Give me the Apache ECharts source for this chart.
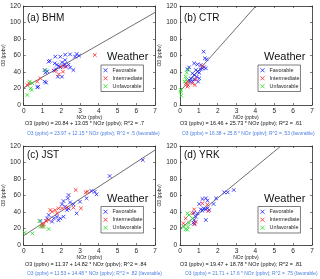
<!DOCTYPE html>
<html>
<head>
<meta charset="utf-8">
<script src="https://cdn.jsdelivr.net/npm/echarts@6/dist/echarts.min.js"></script>
<style>
html,body{margin:0;padding:0;background:#fff;}
#c{width:320px;height:279px;}
</style>
</head>
<body>
<div id="c"></div>
<script>
// ---- data ----
const panelLabels = ['(a) BHM', '(b) CTR', '(c) JST', '(d) YRK'];
const categories = ['Favorable', 'Intermediate', 'Unfavorable'];
const xTicks = [0, 1, 2, 3, 4, 5, 6, 7];
const yTicks = [0, 20, 40, 60, 80, 100, 120];

const bhmFav = [[1.33,52.5],[1.39,53.7],[1.68,58.6],[1.95,58.6],[2.21,61],[2.47,61.4],[2.82,61.8],[2.95,59.8],[2.74,58.6],[1.65,50.5],[1.77,48.9],[2.04,51.7],[2.18,49.7],[2.26,46.5],[2.39,48.9],[2.65,42.4],[2.47,45.3],[1.12,42.4],[1.25,40.8],[1.16,39.2],[1.6,41.6],[1.72,43.2],[1.86,47.3],[1.95,45.7],[2.12,47.3],[2.04,34.3],[1.82,34.3],[1.12,28.3],[1.19,27.1],[0.72,21.4],[0.77,22.2],[2.21,54.5]];
const bhmInt = [[3.79,60.6],[1.68,41.6],[2.0,46.5],[2.09,40.4],[1.86,37.2],[2.21,46.5],[0.89,32.3],[0.72,28.3],[0.28,26.3],[0.19,24.2]];
const bhmUnf = [[0.32,28.3],[0.46,26.3],[0.37,20.2],[0.42,18.2],[0.19,12.1],[1.14,42]];

const ctrFav = [[1.25,64.6],[1.32,56.6],[1.41,55.4],[1.1,48.5],[0.75,50.5],[0.93,49.3],[0.48,45.7],[0.39,43.2],[0.84,42.4],[0.93,40.4],[1.02,39.2],[0.66,38.4],[0.75,36.4],[1.1,43.2],[1.19,44.4],[1.28,45.7],[0.89,34.3],[1.02,32.3],[0.57,32.3],[0.48,30.3],[0.66,28.3],[0.53,28.3],[0.96,28.3],[0.75,31.1],[1.37,44.4]];
const ctrInt = [[1.19,47.3],[0.39,28.3],[0.3,26.3],[0.39,22.2],[0.43,24.2],[0.66,26.3],[0.78,24.2],[0.84,31.1]];
const ctrUnf = [[0.44,43],[0.36,39.2],[0.3,34.3],[0.34,31.1],[0.25,28.3],[0.04,18.2],[0.04,16.2],[0.07,11.3]];

const jstFav = [[4.58,83.6],[6.35,103],[3.79,64.6],[3.88,61.4],[3.61,65.5],[3.35,56.6],[3.0,52.5],[2.39,60.6],[2.35,56.6],[2.12,53.3],[2.04,49.3],[2.47,51.7],[2.65,49.3],[2.21,46.5],[2.82,38.4],[2.3,42.4],[2.12,34.3],[1.95,32.3],[1.77,34.3],[1.6,32.3],[1.51,28.3],[1.33,36.4],[1.25,32.3],[0.89,29.1],[2.4,44],[1.85,30]];
const jstInt = [[2.77,66.7],[3.3,63.8],[3.4,64.6],[3.05,44.4],[2.04,44.4],[1.86,44.4],[1.68,42.4],[1.51,40.4],[1.42,42.4],[1.77,38.4],[1.19,29.1],[1.33,30.3],[0.98,25],[0.98,22.2],[1.07,25],[2.65,45.3],[2.3,45.3]];
const jstUnf = [[0.84,29.1],[0.89,22.2],[1.33,19.4],[0.46,14.1],[0.05,15],[1.07,22.2]];

const yrkFav = [[2.85,66.7],[2.53,63.8],[2.35,63.8],[1.91,56.6],[1.37,56.6],[1.19,55.8],[1.46,53.7],[1.02,49.7],[1.78,49.7],[1.25,44.4],[1.37,43.2],[1.46,44.4],[1.55,42.4],[1.19,41.6],[1.1,43.2],[0.93,38.4],[0.84,34.3],[0.75,30.3],[0.71,27.1],[0.78,26],[1.37,30.3],[0.75,39]];
const yrkInt = [[1.19,50.5],[0.75,43.2],[0.66,38.4],[0.84,28.3],[0.75,25],[0.3,32.3],[0.18,26.3],[1.5,41],[1.45,49]];
const yrkUnf = [[0.39,38.4],[0.48,36.4],[0.21,22.2],[0.3,19],[0.43,22.2],[0.48,26.3],[0.66,32.3],[0.39,18.5]];

const fitIntercept = [20.84, 16.46, 11.37, 19.47];
const fitSlope = [13.05, 25.73, 14.82, 18.78];
const fitR2 = ['.7', '.61', '.84', '.81'];
const favIntercept = [23.97, 16.38, 11.53, 21.71];
const favSlope = [12.15, 25.8, 14.48, 17.6];
const favR2 = ['.5', '.53', '.82', '.75'];

// ---- layout ----
const panelData = [[bhmFav, bhmInt, bhmUnf], [ctrFav, ctrInt, ctrUnf], [jstFav, jstInt, jstUnf], [yrkFav, yrkInt, yrkUnf]];
const colors = ['#1a1aff', '#ff2222', '#1ee01e'];
const grids = [
  {left: 23, top: 6, width: 132, height: 99},
  {left: 180, top: 6, width: 132, height: 99},
  {left: 23, top: 146, width: 132, height: 99},
  {left: 180, top: 146, width: 132, height: 99}
];
const labelDy = [13.5, 13.5, 10.5, 10.5];
const weatherY = [58, 58, 200.5, 200.5];
const boxTop = [65, 65, 206.5, 206.5];
const eqY = [124.5, 124.5, 265, 265];
const eqX = [25, 180, 25, 180];
const favEqX = [27, 182, 27, 185];
const xPath = 'path://M0,0L10,10M10,0L0,10';
const font = 'Liberation Sans, Arial, sans-serif';
const axisCol = '#262626';

const xAxis = [], yAxis = [], series = [], legend = [], graphic = [];
grids.forEach((g, i) => {
  xAxis.push({
    gridIndex: i, type: 'value', min: 0, max: 7, interval: 1,
    name: 'NOz (ppbv)', nameLocation: 'middle', nameGap: 8.5,
    nameTextStyle: {fontSize: 5, color: axisCol, fontFamily: font},
    axisLine: {show: true, onZero: false, lineStyle: {color: axisCol, width: 0.8}},
    axisTick: {inside: true, length: 2, lineStyle: {color: axisCol, width: 0.6}},
    axisLabel: {fontSize: 6.5, color: axisCol, margin: 2.5, fontFamily: font},
    splitLine: {show: false}
  });
  xAxis.push({
    gridIndex: i, type: 'value', min: 0, max: 7, interval: 1, position: 'top',
    axisLine: {show: true, onZero: false, lineStyle: {color: axisCol, width: 0.8}},
    axisTick: {inside: true, length: 2, lineStyle: {color: axisCol, width: 0.6}},
    axisLabel: {show: false}, splitLine: {show: false}
  });
  yAxis.push({
    gridIndex: i, type: 'value', min: 0, max: 120, interval: 20,
    name: 'O3 (ppbv)', nameLocation: 'middle', nameGap: 15,
    nameTextStyle: {fontSize: 5, color: axisCol, fontFamily: font},
    axisLine: {show: true, onZero: false, lineStyle: {color: axisCol, width: 0.8}},
    axisTick: {inside: true, length: 2, lineStyle: {color: axisCol, width: 0.6}},
    axisLabel: {fontSize: 6.5, color: axisCol, margin: 3, fontFamily: font},
    splitLine: {show: false}
  });
  yAxis.push({
    gridIndex: i, type: 'value', min: 0, max: 120, interval: 20, position: 'right',
    axisLine: {show: true, onZero: false, lineStyle: {color: axisCol, width: 0.8}},
    axisTick: {inside: true, length: 2, lineStyle: {color: axisCol, width: 0.6}},
    axisLabel: {show: false}, splitLine: {show: false}
  });

  // regression line
  const a = fitIntercept[i], b = fitSlope[i];
  const xEnd = Math.min(7, (120 - a) / b);
  series.push({
    type: 'line', xAxisIndex: 2 * i, yAxisIndex: 2 * i, silent: true,
    data: [[0, a], [xEnd, a + b * xEnd]], symbol: 'none',
    lineStyle: {color: '#4a4a4a', width: 0.8}, z: 1
  });
  categories.forEach((name, k) => {
    series.push({
      type: 'scatter', name: name, xAxisIndex: 2 * i, yAxisIndex: 2 * i,
      data: panelData[i][k], symbol: xPath, symbolSize: 3.6,
      itemStyle: {color: 'rgba(0,0,0,0)', borderColor: colors[k], borderWidth: 1},
      z: 3
    });
  });

  legend.push({
    orient: 'vertical', left: g.left + 78, top: boxTop[i],
    width: 50,
    borderColor: axisCol, borderWidth: 0.6, padding: [2, 1, 2, 2],
    itemGap: 1.5, itemWidth: 4, itemHeight: 4,
    textStyle: {fontSize: 5.4, color: axisCol, fontFamily: font, lineHeight: 6.5},
    data: categories.map((n, k) => ({
      name: n, icon: xPath,
      itemStyle: {color: 'rgba(0,0,0,0)', borderColor: colors[k], borderWidth: 1}
    }))
  });

  graphic.push({
    type: 'text', left: g.left + 4, top: g.top + labelDy[i] - 6,
    style: {text: panelLabels[i], fontSize: 10, fill: '#111', fontFamily: font}
  });
  graphic.push({
    type: 'text', left: g.left + 84, top: weatherY[i] - 7,
    style: {text: 'Weather', fontSize: 11, fill: '#111', fontFamily: font}
  });
  graphic.push({
    type: 'text', left: eqX[i], top: eqY[i] - 3,
    style: {text: 'O3 (ppbv) = ' + fitIntercept[i] + ' + ' + fitSlope[i] + ' * NOz (ppbv); R^2 = ' + fitR2[i],
      fontSize: 5.4, fill: '#111', fontFamily: font}
  });
  graphic.push({
    type: 'text', left: favEqX[i], top: eqY[i] + 6.5,
    style: {text: 'O3 (ppbv) = ' + favIntercept[i] + ' + ' + favSlope[i] + ' * NOz (ppbv); R^2 = ' + favR2[i] + ' (favorable)',
      fontSize: 4.9, fill: '#4a7ee0', fontFamily: font}
  });
});

const chart = echarts.init(document.getElementById('c'), null, {renderer: 'canvas'});
chart.setOption({
  animation: false,
  backgroundColor: '#fff',
  grid: grids.map(g => Object.assign({containLabel: false}, g)),
  xAxis: xAxis, yAxis: yAxis, series: series, legend: legend, graphic: graphic
});
</script>
</body>
</html>
